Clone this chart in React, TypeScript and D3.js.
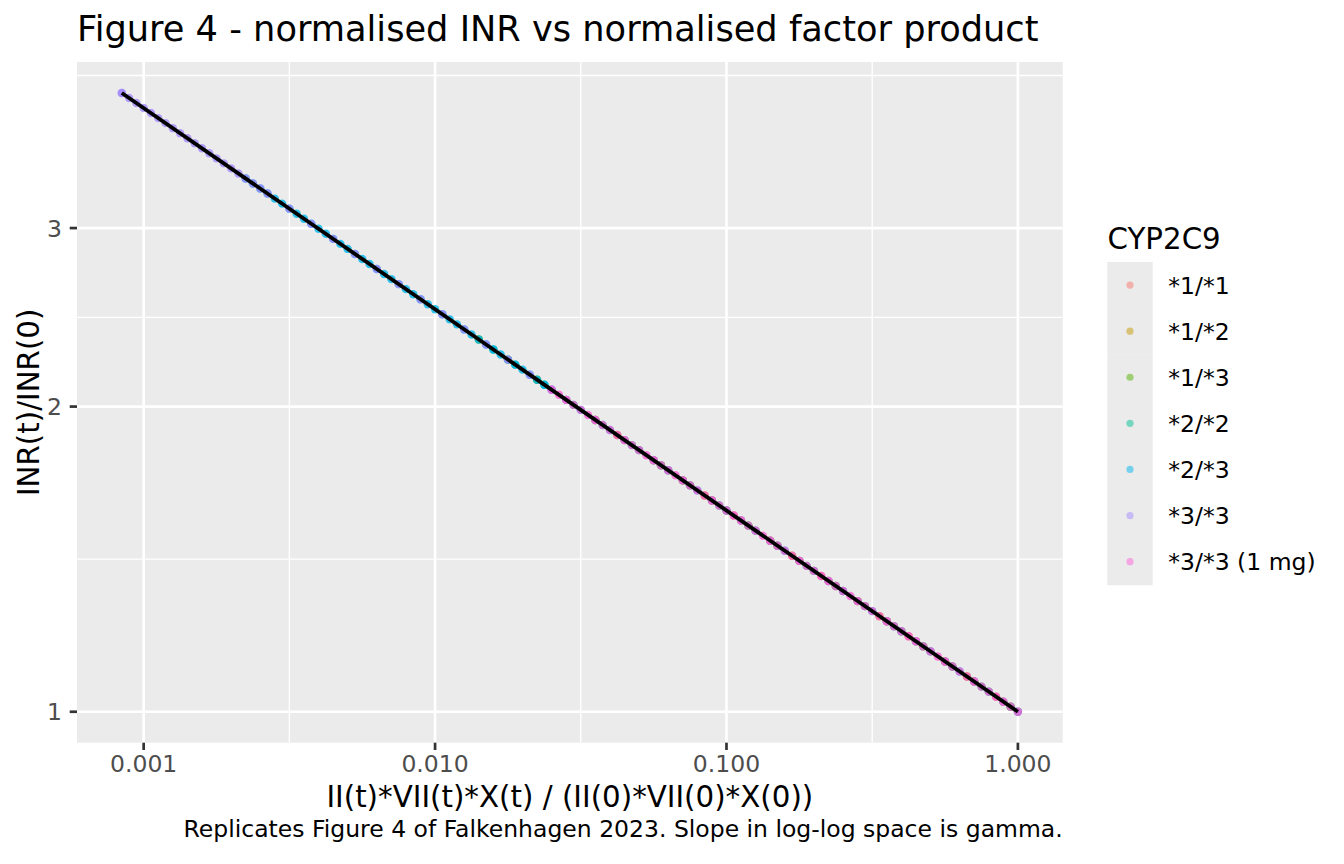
import React from "react";
import * as d3 from "d3";

type Pt = [number, number];

const GENOTYPES = ["*1/*1", "*1/*2", "*1/*3", "*2/*2", "*2/*3", "*3/*3", "*3/*3 (1 mg)"];
const COLORS = ["#F8766D", "#C49A00", "#53B400", "#00C094", "#00B6EB", "#A58AFF", "#FB61D7"];

// [factor product ratio, INR ratio]
const CYP_1_1: Pt[] = [
  [1, 1.0], [0.8414, 1.0349], [0.70795, 1.071], [0.59566, 1.1083], [0.50119, 1.147], [0.4217, 1.187],
  [0.35481, 1.2284], [0.29854, 1.2712], [0.25119, 1.3155], [0.21135, 1.3614], [0.17783, 1.4089],
  [0.14962, 1.458], [0.12589, 1.5089], [0.10593, 1.5615], [0.089125, 1.616], [0.074989, 1.6723], [0.063096, 1.7306],
];
const CYP_1_2: Pt[] = [
  [0.94406, 1.0115], [0.79433, 1.0468], [0.66834, 1.0833], [0.56234, 1.1211], [0.47315, 1.1602], [0.39811, 1.2006],
  [0.33497, 1.2425], [0.28184, 1.2858], [0.23714, 1.3307], [0.19953, 1.3771], [0.16788, 1.4251], [0.14125, 1.4748],
  [0.11885, 1.5262], [0.1, 1.5795], [0.08414, 1.6345], [0.070795, 1.6915], [0.059566, 1.7505], [0.050119, 1.8116],
  [0.04217, 1.8748], [0.035481, 1.9402],
];
const CYP_1_3: Pt[] = [
  [0.89125, 1.0231], [0.70795, 1.071], [0.56234, 1.1211], [0.44668, 1.1735], [0.35481, 1.2284], [0.28184, 1.2858],
  [0.22387, 1.346], [0.17783, 1.4089], [0.14125, 1.4748], [0.1122, 1.5438], [0.089125, 1.616], [0.070795, 1.6915],
  [0.056234, 1.7707], [0.044668, 1.8535], [0.035481, 1.9402], [0.028184, 2.0309], [0.022387, 2.1259],
  [0.017783, 2.2253], [0.014125, 2.3294],
];
const CYP_2_2: Pt[] = [
  [0.94406, 1.0115], [0.74989, 1.0588], [0.59566, 1.1083], [0.47315, 1.1602], [0.37584, 1.2144], [0.29854, 1.2712],
  [0.23714, 1.3307], [0.18836, 1.3929], [0.14962, 1.458], [0.11885, 1.5262], [0.094406, 1.5976], [0.074989, 1.6723],
  [0.059566, 1.7505], [0.047315, 1.8324], [0.037584, 1.9181], [0.029854, 2.0078], [0.023714, 2.1017],
  [0.018836, 2.2], [0.015849, 2.2767],
];
const CYP_2_3: Pt[] = [
  [1, 1.0], [0.79433, 1.0468], [0.63096, 1.0957], [0.50119, 1.147], [0.39811, 1.2006], [0.31623, 1.2568],
  [0.25119, 1.3155], [0.19953, 1.3771], [0.15849, 1.4415], [0.12589, 1.5089], [0.1, 1.5795], [0.079433, 1.6533],
  [0.063096, 1.7306], [0.050119, 1.8116], [0.039811, 1.8963], [0.031623, 1.985],
  [0.025119, 2.0778], [0.023714, 2.1017], [0.022387, 2.1259], [0.021135, 2.1503], [0.019953, 2.175],
  [0.018836, 2.2], [0.017783, 2.2253], [0.016788, 2.2509], [0.015849, 2.2767], [0.014962, 2.3029],
  [0.014125, 2.3294], [0.013335, 2.3561], [0.012589, 2.3832], [0.011885, 2.4106], [0.01122, 2.4383],
  [0.010593, 2.4663], [0.01, 2.4947], [0.0094406, 2.5234], [0.0089125, 2.5524], [0.008414, 2.5817],
  [0.0079433, 2.6114], [0.0074989, 2.6414], [0.0070795, 2.6717], [0.0066834, 2.7024], [0.0063096, 2.7335],
  [0.0059566, 2.7649], [0.0056234, 2.7967], [0.0053088, 2.8288], [0.0050119, 2.8613], [0.0047315, 2.8942],
  [0.0044668, 2.9275], [0.004217, 2.9611], [0.0039811, 2.9951], [0.0037584, 3.0296], [0.0035481, 3.0644],
  [0.0033497, 3.0996], [0.0031623, 3.1352], [0.0029854, 3.1713], [0.0028184, 3.2077], [0.0026607, 3.2446],
  [0.0025119, 3.2819], [0.0023714, 3.3196], [0.0022387, 3.3577],
];
const CYP_3_3: Pt[] = [
  [0.89125, 1.0231], [0.70795, 1.071], [0.56234, 1.1211], [0.44668, 1.1735], [0.35481, 1.2284], [0.28184, 1.2858],
  [0.22387, 1.346], [0.17783, 1.4089], [0.14125, 1.4748], [0.1122, 1.5438], [0.089125, 1.616], [0.070795, 1.6915],
  [0.056234, 1.7707], [0.044668, 1.8535], [0.035481, 1.9402], [0.028184, 2.0309],
  [0.025119, 2.0778], [0.021135, 2.1503], [0.017783, 2.2253], [0.014962, 2.3029], [0.012589, 2.3832],
  [0.010593, 2.4663], [0.0089125, 2.5524], [0.0074989, 2.6414], [0.0063096, 2.7335], [0.0053088, 2.8288],
  [0.0044668, 2.9275], [0.0037584, 3.0296], [0.0031623, 3.1352], [0.0026607, 3.2446],
  [0.0025119, 3.2819], [0.0023714, 3.3196], [0.0022387, 3.3577], [0.0021135, 3.3963], [0.0019953, 3.4354],
  [0.0018836, 3.4748], [0.0017783, 3.5148], [0.0016788, 3.5552], [0.0015849, 3.596], [0.0014962, 3.6373],
  [0.0014125, 3.6791], [0.0013335, 3.7214], [0.0012589, 3.7642], [0.0011885, 3.8075], [0.001122, 3.8512],
  [0.0010593, 3.8955], [0.001, 3.9402], [0.00094406, 3.9855], [0.00089125, 4.0313], [0.0008414, 4.0777],
  [0.0008414, 4.0777],
];
const CYP_3_3_1MG: Pt[] = [
  [1, 1.0], [0.94406, 1.0115], [0.89125, 1.0231], [0.8414, 1.0349], [0.79433, 1.0468], [0.74989, 1.0588],
  [0.70795, 1.071], [0.66834, 1.0833], [0.63096, 1.0957], [0.59566, 1.1083], [0.56234, 1.1211], [0.53088, 1.1339],
  [0.50119, 1.147], [0.47315, 1.1602], [0.44668, 1.1735], [0.4217, 1.187], [0.39811, 1.2006], [0.37584, 1.2144],
  [0.35481, 1.2284], [0.33497, 1.2425], [0.31623, 1.2568], [0.29854, 1.2712], [0.28184, 1.2858], [0.26607, 1.3006],
  [0.25119, 1.3155], [0.23714, 1.3307], [0.22387, 1.346], [0.21135, 1.3614], [0.19953, 1.3771], [0.18836, 1.3929],
  [0.17783, 1.4089], [0.16788, 1.4251], [0.15849, 1.4415], [0.14962, 1.458], [0.14125, 1.4748], [0.13335, 1.4917],
  [0.12589, 1.5089], [0.11885, 1.5262], [0.1122, 1.5438], [0.10593, 1.5615], [0.1, 1.5795], [0.094406, 1.5976],
  [0.089125, 1.616], [0.08414, 1.6345], [0.079433, 1.6533], [0.074989, 1.6723], [0.070795, 1.6915],
  [0.066834, 1.711], [0.063096, 1.7306], [0.059566, 1.7505], [0.056234, 1.7707], [0.053088, 1.791],
  [0.050119, 1.8116], [0.047315, 1.8324], [0.044668, 1.8535], [0.04217, 1.8748], [0.039811, 1.8963],
  [0.037584, 1.9181], [0.035481, 1.9402], [0.033497, 1.9624], [0.031623, 1.985], [0.029854, 2.0078],
  [0.028184, 2.0309], [0.026607, 2.0542], [0.025119, 2.0778],
];

const SERIES: Pt[][] = [CYP_1_1, CYP_1_2, CYP_1_3, CYP_2_2, CYP_2_3, CYP_3_3, CYP_3_3_1MG];

// fitted log-log line endpoints
const FIT_X = [0.0008414, 1];
const FIT_Y = [4.0777, 1.0];

const X_BREAKS = [0.001, 0.01, 0.1, 1];
const X_LABELS = ["0.001", "0.010", "0.100", "1.000"];
const X_MINOR = [0.0031623, 0.031623, 0.31623];
const Y_BREAKS = [1, 2, 3];
const Y_LABELS = ["1", "2", "3"];
const Y_MINOR = [1.4142, 2.4495, 4.2426];

const TITLE = "Figure 4 - normalised INR vs normalised factor product";
const X_TITLE = "II(t)*VII(t)*X(t) / (II(0)*VII(0)*X(0))";
const Y_TITLE = "INR(t)/INR(0)";
const CAPTION = "Replicates Figure 4 of Falkenhagen 2023. Slope in log-log space is gamma.";
const LEGEND_TITLE = "CYP2C9";

const FONT = "DejaVu Sans";

export default function App() {
  const W = 1344;
  const H = 864;
  const P = { left: 77, right: 1062.7, top: 62, bottom: 742.7 };

  const all = SERIES.flat();
  const [xMin, xMax] = d3.extent(all, (d) => d[0]) as [number, number];
  const [yMin, yMax] = d3.extent(all, (d) => d[1]) as [number, number];
  const lx0 = Math.log10(xMin), lx1 = Math.log10(xMax);
  const ly0 = Math.log10(yMin), ly1 = Math.log10(yMax);
  const ex = (lx1 - lx0) * 0.05;
  const ey = (ly1 - ly0) * 0.05;

  const x = d3.scaleLog().domain([10 ** (lx0 - ex), 10 ** (lx1 + ex)]).range([P.left, P.right]);
  const y = d3.scaleLog().domain([10 ** (ly0 - ey), 10 ** (ly1 + ey)]).range([P.bottom, P.top]);

  const fitLine = d3.line<number>().x((_, i) => x(FIT_X[i])).y((_, i) => y(FIT_Y[i]));

  const keyH = 46.1;
  const keyTop = 262;
  const keyLeft = 1107.3;
  const keyW = 45.4;
  const R = 4.2;

  return (
    <svg
      width={W}
      height={H}
      style={{ position: "absolute", left: 0, top: 0, background: "#FFFFFF" }}
      fontFamily={FONT}
    >
      <rect x={0} y={0} width={W} height={H} fill="#FFFFFF" />
      <defs>
        <clipPath id="panelClip">
          <rect x={P.left} y={P.top} width={P.right - P.left} height={P.bottom - P.top} />
        </clipPath>
      </defs>
      {/* panel */}
      <rect x={P.left} y={P.top} width={P.right - P.left} height={P.bottom - P.top} fill="#EBEBEB" />
      <g clipPath="url(#panelClip)">
        {Y_MINOR.map((v) => (
          <line key={"ym" + v} x1={P.left} x2={P.right} y1={y(v)} y2={y(v)} stroke="#FFFFFF" strokeWidth={1.35} />
        ))}
        {X_MINOR.map((v) => (
          <line key={"xm" + v} y1={P.top} y2={P.bottom} x1={x(v)} x2={x(v)} stroke="#FFFFFF" strokeWidth={1.35} />
        ))}
        {Y_BREAKS.map((v) => (
          <line key={"yM" + v} x1={P.left} x2={P.right} y1={y(v)} y2={y(v)} stroke="#FFFFFF" strokeWidth={2.7} />
        ))}
        {X_BREAKS.map((v) => (
          <line key={"xM" + v} y1={P.top} y2={P.bottom} x1={x(v)} x2={x(v)} stroke="#FFFFFF" strokeWidth={2.7} />
        ))}
        {SERIES.map((s, gi) => (
          <g key={"s" + gi} fill={COLORS[gi]}>
            {s.map((d, i) => (
              <circle key={i} cx={x(d[0])} cy={y(d[1])} r={R} fillOpacity={0.8} />
            ))}
          </g>
        ))}
        <path d={fitLine([0, 1]) || ""} stroke="#000000" strokeWidth={3.8} fill="none" />
      </g>

      {/* axes ticks */}
      {Y_BREAKS.map((v, i) => (
        <g key={"yt" + v}>
          <line x1={P.left - 7.3} x2={P.left} y1={y(v)} y2={y(v)} stroke="#333333" strokeWidth={2.7} />
          <text x={P.left - 15} y={y(v)} dy="0.36em" textAnchor="end" fontSize={23.5} fill="#4D4D4D">
            {Y_LABELS[i]}
          </text>
        </g>
      ))}
      {X_BREAKS.map((v, i) => (
        <g key={"xt" + v}>
          <line y1={P.bottom} y2={P.bottom + 7.3} x1={x(v)} x2={x(v)} stroke="#333333" strokeWidth={2.7} />
          <text x={x(v)} y={772.3} textAnchor="middle" fontSize={23.5} fill="#4D4D4D">
            {X_LABELS[i]}
          </text>
        </g>
      ))}

      {/* titles */}
      <text x={77} y={40.7} fontSize={35.2} fill="#000000">
        {TITLE}
      </text>
      <text x={(P.left + P.right) / 2} y={806.7} textAnchor="middle" fontSize={29.3} fill="#000000">
        {X_TITLE}
      </text>
      <text
        transform={`translate(39.3, ${(P.top + P.bottom) / 2}) rotate(-90)`}
        textAnchor="middle"
        fontSize={29.3}
        fill="#000000"
      >
        {Y_TITLE}
      </text>
      <text x={P.right} y={837.3} textAnchor="end" fontSize={23.5} fill="#000000">
        {CAPTION}
      </text>

      {/* legend */}
      <text x={1107.5} y={249.3} fontSize={29.3} fill="#000000">
        {LEGEND_TITLE}
      </text>
      {GENOTYPES.map((g, i) => (
        <g key={g}>
          <rect x={keyLeft} y={keyTop + i * keyH} width={keyW} height={keyH + 0.5} fill="#EBEBEB" />
          <circle cx={keyLeft + keyW / 2} cy={keyTop + i * keyH + keyH / 2} r={3.6} fill={COLORS[i]} fillOpacity={0.5} />
          <text x={1168.3} y={keyTop + i * keyH + keyH / 2} dy="0.36em" fontSize={23.5} fill="#000000">
            {g}
          </text>
        </g>
      ))}
    </svg>
  );
}
